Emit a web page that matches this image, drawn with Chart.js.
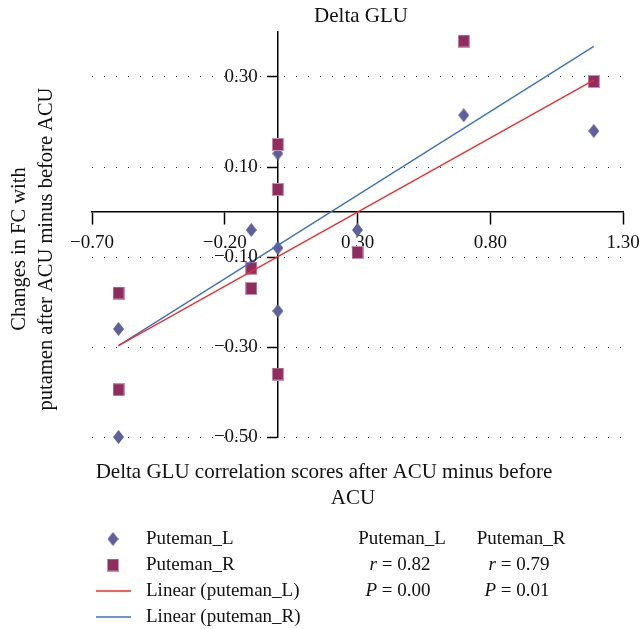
<!DOCTYPE html>
<html>
<head>
<meta charset="utf-8">
<script src="https://cdn.jsdelivr.net/npm/chart.js@4.4.1/dist/chart.umd.min.js"></script>
<style>
  body { margin: 0; background: #fff; }
  #chart { display: block; }
</style>
</head>
<body>
<canvas id="chart" width="643" height="629"></canvas>
<script>
// values
const xValues = [-0.6, -0.6, -0.1, -0.1, 0, 0, 0, 0.3, 0.7, 1.19];
const putemanL = [-0.26, -0.50, -0.04, -0.12, -0.08, -0.22, 0.13, -0.04, 0.215, 0.18];
const putemanR = [-0.18, -0.395, -0.125, -0.17, -0.36, 0.15, 0.05, -0.09, 0.38, 0.29];

// trend line ends
const trendX = [-0.6, 1.19];
const trendL = [-0.297, 0.293];
const trendR = [-0.297, 0.368];

const xTicks = [-0.7, -0.2, 0.3, 0.8, 1.3];
const yTicks = [-0.5, -0.3, -0.1, 0.1, 0.3];

const statHeads = ['Puteman_L', 'Puteman_R'];
const statR = ['0.82', '0.79'];
const statP = ['0.00', '0.01'];

const colL = '#5f5f99';
const colR = '#8f2d5f';
const lineL = '#f52a2a';
const lineR = '#3a70c4';
const font = '"Liberation Serif", "Times New Roman", serif';

// marker shapes
function makeDiamond(w, h) {
    const c = document.createElement('canvas');
    c.width = w; c.height = h;
    const g = c.getContext('2d');
    g.fillStyle = colL;
    g.beginPath();
    g.moveTo(w / 2, 0); g.lineTo(w, h / 2); g.lineTo(w / 2, h); g.lineTo(0, h / 2);
    g.closePath();
    g.fill();
    return c;
}
function makeSquare(w, h) {
    const c = document.createElement('canvas');
    c.width = w; c.height = h;
    const g = c.getContext('2d');
    g.fillStyle = '#c98fae';
    g.fillRect(0, 0, w, h);
    g.fillStyle = colR;
    g.fillRect(1, 1, w - 2, h - 2);
    return c;
}
const diamond = makeDiamond(11, 14);
const square = makeSquare(12, 13);

const fmt = v => v.toFixed(2).replace('-', '\u2212');
const pts = ys => xValues.map((x, i) => ({x: x, y: ys[i]}));
const tpts = ys => trendX.map((x, i) => ({x: x, y: ys[i]}));

// y tick labels sit left of the tick marks, titles, legend and r/P table
const textPlugin = {
    id: 'texts',
    afterDraw(chart) {
        const ctx = chart.ctx;
        const yScale = chart.scales.y;
        const axisX = chart.scales.x.getPixelForValue(0);
        ctx.save();
        ctx.fillStyle = '#111';
        ctx.font = '19px ' + font;
        ctx.textBaseline = 'middle';
        ctx.textAlign = 'right';
        yTicks.forEach(v => {
            ctx.fillText(fmt(v), axisX - 20, yScale.getPixelForValue(v));
        });

        ctx.textAlign = 'center';
        ctx.font = '21px ' + font;
        ctx.fillText('Delta GLU', 361, 16);
        ctx.fillText('Delta GLU correlation scores after ACU minus before', 324, 472);
        ctx.fillText('ACU', 353, 498);

        ctx.save();
        ctx.font = '20.5px ' + font;
        ctx.translate(20, 249);
        ctx.rotate(-Math.PI / 2);
        ctx.fillText('Changes in FC with', 0, 0);
        ctx.fillText('putamen after ACU minus before ACU', 0, 27);
        ctx.restore();

        // legend
        ctx.font = '19px ' + font;
        const rows = [539, 565, 591, 617];
        ctx.drawImage(diamond, 113 - diamond.width / 2, rows[0] - diamond.height / 2);
        ctx.drawImage(square, 113 - square.width / 2, rows[1] - square.height / 2);
        ctx.lineWidth = 1.5;
        ctx.strokeStyle = lineL;
        ctx.beginPath(); ctx.moveTo(96, rows[2]); ctx.lineTo(131, rows[2]); ctx.stroke();
        ctx.strokeStyle = lineR;
        ctx.beginPath(); ctx.moveTo(96, rows[3]); ctx.lineTo(131, rows[3]); ctx.stroke();
        ctx.textAlign = 'left';
        ['Puteman_L', 'Puteman_R', 'Linear (puteman_L)', 'Linear (puteman_R)'].forEach((t, i) => {
            ctx.fillText(t, 146, rows[i]);
        });

        // r and P values
        const centers = [402, 521];
        const italicPart = (letter, rest, cx, y) => {
            ctx.font = 'italic 19px ' + font;
            const w1 = ctx.measureText(letter).width;
            ctx.font = '19px ' + font;
            const w2 = ctx.measureText(rest).width;
            const x0 = cx - (w1 + w2) / 2;
            ctx.font = 'italic 19px ' + font;
            ctx.fillText(letter, x0, y);
            ctx.font = '19px ' + font;
            ctx.fillText(rest, x0 + w1, y);
        };
        statHeads.forEach((h, i) => {
            ctx.textAlign = 'center';
            ctx.fillText(h, centers[i], rows[0]);
            ctx.textAlign = 'left';
            italicPart('r', ' = ' + statR[i], centers[i] - 2, rows[1]);
            italicPart('P', ' = ' + statP[i], centers[i] - 4, rows[2]);
        });
        ctx.restore();
    }
};

const chart = new Chart(document.getElementById('chart').getContext('2d'), {
    type: 'scatter',
    data: {
        datasets: [
            {
                label: 'Linear (puteman_L)',
                type: 'line',
                data: tpts(trendL),
                borderColor: lineL,
                borderWidth: 1.3,
                pointRadius: 0,
                fill: false,
                order: 0
            },
            {
                label: 'Linear (puteman_R)',
                type: 'line',
                data: tpts(trendR),
                borderColor: lineR,
                borderWidth: 1.3,
                pointRadius: 0,
                fill: false,
                order: 0
            },
            {
                label: 'Puteman_R',
                data: pts(putemanR),
                pointStyle: square,
                clip: false,
                order: 1
            },
            {
                label: 'Puteman_L',
                data: pts(putemanL),
                pointStyle: diamond,
                clip: false,
                order: 2
            }
        ]
    },
    options: {
        responsive: false,
        animation: false,
        layout: {
            padding: {left: 92, right: 20, top: 32, bottom: 192}
        },
        plugins: {
            legend: {display: false},
            tooltip: {enabled: false}
        },
        scales: {
            x: {
                type: 'linear',
                min: -0.7,
                max: 1.3,
                position: {y: 0},
                afterBuildTicks: axis => { axis.ticks = xTicks.map(v => ({value: v})); },
                afterFit: axis => { axis.paddingLeft = 0; axis.paddingRight = 0; },
                grid: {
                    drawOnChartArea: false,
                    drawTicks: true,
                    tickLength: 12,
                    tickColor: '#000',
                    tickWidth: 1.5
                },
                border: {color: '#000', width: 1.5},
                ticks: {
                    autoSkip: false,
                    maxRotation: 0,
                    padding: 8,
                    color: '#111',
                    font: {family: font, size: 19},
                    callback: v => fmt(v)
                }
            },
            y: {
                type: 'linear',
                min: -0.5,
                max: 0.4,
                position: {x: 0},
                afterBuildTicks: axis => { axis.ticks = yTicks.map(v => ({value: v})); },
                afterFit: axis => { axis.paddingTop = 0; axis.paddingBottom = 0; },
                grid: {
                    color: '#333',
                    lineWidth: 1,
                    drawTicks: true,
                    tickLength: 10,
                    tickColor: '#000',
                    tickWidth: 1.5
                },
                border: {color: '#000', width: 1.5, dash: [1, 11]},
                ticks: {display: false}
            }
        }
    },
    plugins: [textPlugin]
});
</script>
</body>
</html>
